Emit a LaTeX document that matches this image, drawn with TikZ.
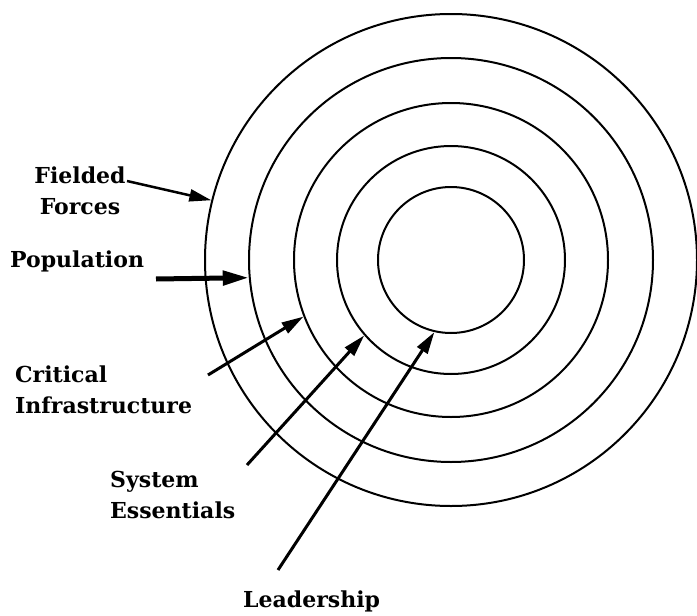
\documentclass[tikz,border=0pt]{standalone}
\usepackage{fontspec}
\setmainfont{DejaVu Serif}
\usetikzlibrary{arrows.meta}
\tikzset{
  ring/.style={circle, draw, line width=2pt, inner sep=0pt, minimum size=#1},
  lbl/.style={inner sep=0pt, font=\bfseries\fontsize{22}{31}\selectfont},
  arr/.style={line width=3pt, -{Triangle[length=22pt,width=12pt]}},
}
\begin{document}
\begin{tikzpicture}[x=1pt,y=-1pt]
\useasboundingbox (0,0) rectangle (697,616);
\node[ring=492pt] (c1) at (451,260) {};
\node[ring=404pt] (c2) at (451,260) {};
\node[ring=314pt] (c3) at (451,260) {};
\node[ring=228pt] (c4) at (451,260) {};
\node[ring=146pt] (c5) at (451,260) {};

\node[lbl, align=center, anchor=north] (ff) at (80,167) {Fielded\\Forces};
\node[lbl, anchor=north west] (pop) at (10,251) {Population};
\node[lbl, align=left, anchor=north west] (ci) at (15,366) {Critical\\Infrastructure};
\node[lbl, align=left, anchor=north west] (se) at (110,471) {System\\Essentials};
\node[lbl, anchor=north west] (ld) at (243,591) {Leadership};

\coordinate (sff) at (127,181);
\coordinate (spop) at (156,279);
\coordinate (sci) at (208,375);
\coordinate (sse) at (247,465);
\coordinate (sld) at (278,570);

\draw[arr, line width=2.5pt] (sff) -- (c1.166.6);
\draw[arr, line width=5pt, -{Triangle[length=26pt,width=14pt]}] (spop) -- (c2.185.4);
\draw[arr] (sci) -- (c3.201.4);
\draw[arr] (sse) -- (c4.221.2);
\draw[arr] (sld) -- (c5.257.1);
\end{tikzpicture}
\end{document}
